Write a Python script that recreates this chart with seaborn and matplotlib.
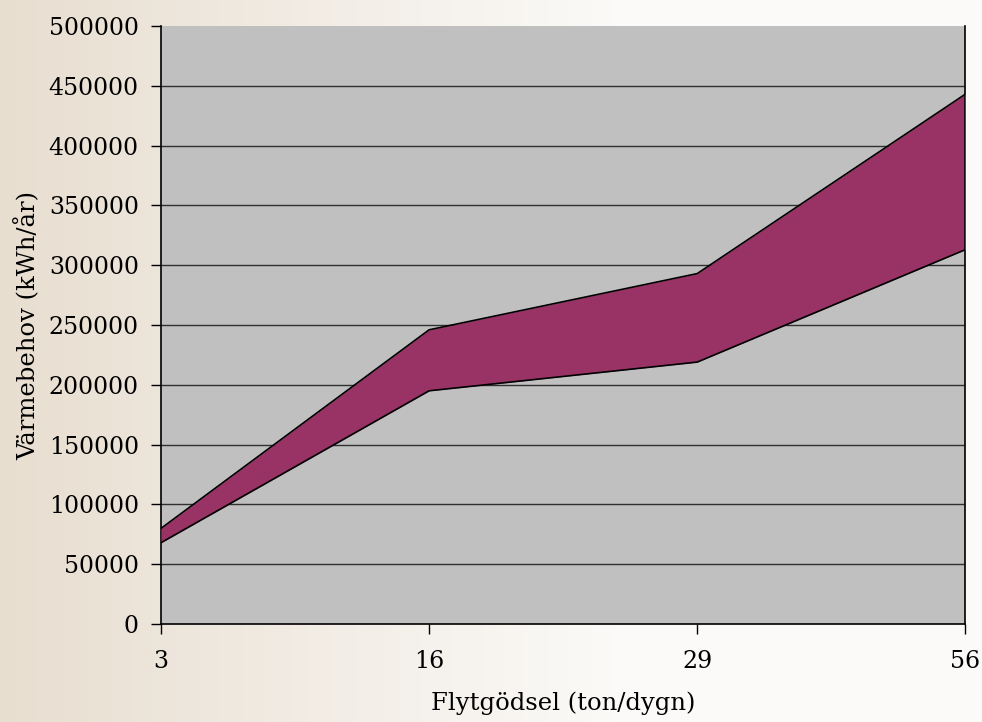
import numpy as np
import pandas as pd
import seaborn as sns
import matplotlib.pyplot as plt

# data
categories = ["3", "16", "29", "56"]
upper = [80000, 246000, 293000, 443000]
lower = [68000, 195000, 219000, 313000]
yticks = [0, 50000, 100000, 150000, 200000, 250000, 300000, 350000, 400000, 450000, 500000]

sns.set_style("white")
plt.rcParams['font.family'] = ['DejaVu Serif']
plt.rcParams['text.color'] = 'black'
plt.rcParams['axes.labelcolor'] = 'black'
plt.rcParams['xtick.color'] = 'black'
plt.rcParams['ytick.color'] = 'black'

df = pd.DataFrame({"pos": range(len(categories)), "upper": upper, "lower": lower})

fig = plt.figure(figsize=(9.82, 7.22), dpi=100)

# beige-to-white gradient behind everything
bg = fig.add_axes([0, 0, 1, 1], zorder=-10)
grad = np.linspace(0, 1, 256)
c0 = np.array([232, 222, 208]) / 255.0
c1 = np.array([251, 250, 248]) / 255.0
t = np.clip(grad * 1.6, 0, 1)[None, :, None]
img = c0 + (c1 - c0) * t
bg.imshow(np.repeat(img, 2, axis=0), aspect='auto', extent=[0, 1, 0, 1])
bg.axis('off')

ax = fig.add_axes([0.164, 0.1357, 0.819, 0.8283])
ax.set_facecolor('#C0C0C0')

ax.fill_between(df["pos"], df["lower"], df["upper"], color='#993366', zorder=3, lw=0)
sns.lineplot(data=df, x="pos", y="upper", ax=ax, color='black', lw=1.2, zorder=4)
sns.lineplot(data=df, x="pos", y="lower", ax=ax, color='black', lw=1.2, zorder=4)
ax.plot([3, 3], [lower[-1], upper[-1]], color='black', lw=1.2, zorder=4)

ax.set_xlim(0, len(categories) - 1)
ax.set_ylim(0, 500000)
ax.set_xticks(range(len(categories)))
ax.set_xticklabels(categories)
ax.set_yticks(yticks)
ax.set_yticklabels([str(v) for v in yticks])

for v in yticks[1:-1]:
    ax.axhline(v, color='#303030', lw=1, zorder=1)

ax.tick_params(axis='both', direction='out', length=7, width=1, color='black',
               labelsize=17, pad=9, bottom=True, left=True)
ax.tick_params(axis='x', pad=12)
for side in ['left', 'right', 'bottom']:
    ax.spines[side].set_color('black')
    ax.spines[side].set_linewidth(1.2)
ax.spines['top'].set_visible(False)

ax.set_xlabel("Flytgödsel (ton/dygn)", fontsize=17.5, labelpad=13)
ax.set_ylabel("Värmebehov (kWh/år)", fontsize=17.5, labelpad=6)

fig.savefig("out.png", dpi=100)
